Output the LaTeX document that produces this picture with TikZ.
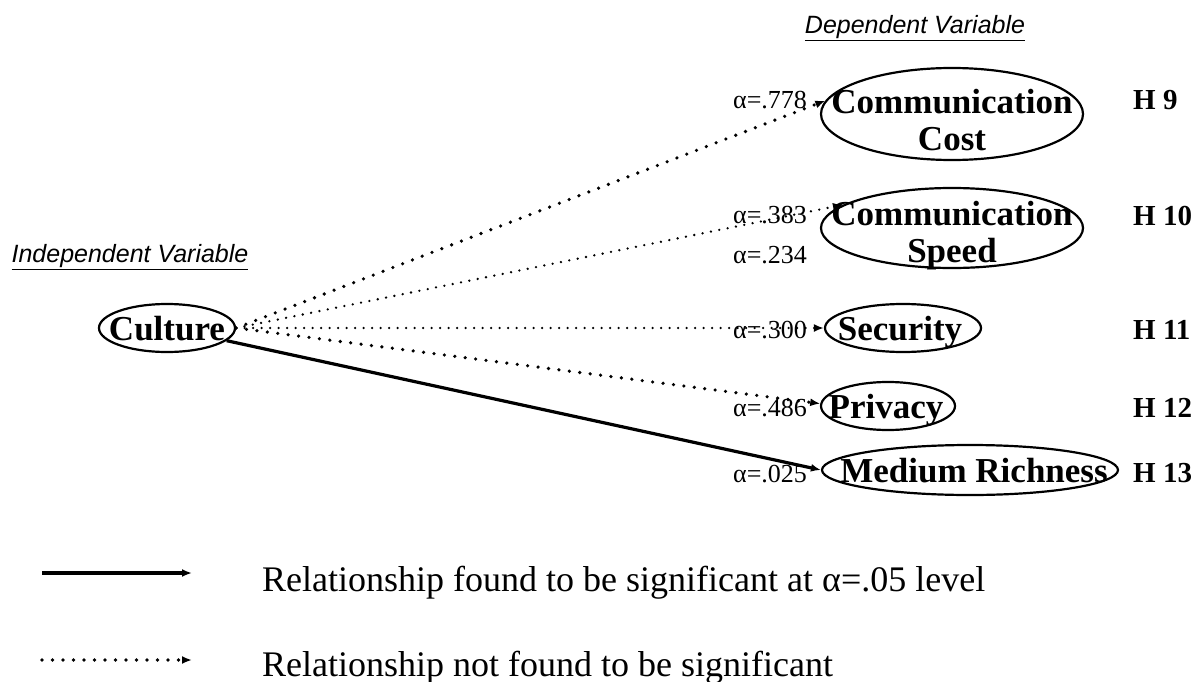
\documentclass[tikz,border=0pt]{standalone}
\usepackage{fontspec}
\setmainfont{Liberation Serif}
\newfontfamily\headsans{Liberation Sans}
\usetikzlibrary{shapes.geometric,arrows.meta}

\begin{document}
\begin{tikzpicture}[x=1pt,y=-1pt,
  ell/.style={draw, ellipse, line width=2.2pt, inner sep=0pt},
  nodetext/.style={font=\fontsize{35}{37}\selectfont\bfseries, align=center, inner sep=0pt},
  onetext/.style={nodetext, anchor=base},
  alphalbl/.style={font=\fontsize{26}{28}\selectfont, anchor=west, inner sep=0pt},
  hyplbl/.style={font=\fontsize{29}{31}\selectfont\bfseries, anchor=base west, inner sep=0pt},
  heading/.style={font=\headsans\itshape\fontsize{25}{27}\selectfont, inner sep=0pt},
  legendtxt/.style={font=\fontsize{36}{38}\selectfont, anchor=base west, inner sep=0pt},
  tip/.style={-{Latex[length=10pt,width=8pt]}},
  sig/.style={tip, line width=3.2pt},
  dotbig/.style={tip, line width=3.6pt, line cap=round, dash pattern=on 0pt off 10.5pt},
  dotsmall/.style={tip, line width=2.6pt, line cap=round, dash pattern=on 0pt off 8.5pt}
]
\useasboundingbox (0,0) rectangle (1201,682);

% headings
\node[heading] (dephead) at (915,28) {\underline{Dependent Variable}};
\node[heading] (indhead) at (130,257) {\underline{Independent Variable}};

% independent variable
\node[ell, minimum width=136, minimum height=48] (cul) at (167,328) {};
\node[onetext] (cultxt) at (167,340) {Culture};

% dependent variables
\node[ell, minimum width=262, minimum height=92] (cc) at (952,114) {};
\node[nodetext] (cctxt) at (952,120) {Communication\\Cost};

\node[ell, minimum width=262, minimum height=80] (cs) at (952,228) {};
\node[nodetext] (cstxt) at (952,236) {Communication\\Speed};

\node[ell, minimum width=156, minimum height=48] (sec) at (903,328) {};
\node[onetext] (sectxt) at (900,340) {Security};

\node[ell, minimum width=134, minimum height=48] (pri) at (888,406) {};
\node[onetext] (pritxt) at (886,418) {Privacy};

\node[ell, minimum width=296, minimum height=50] (med) at (970,470) {};
\node[onetext] (medtxt) at (974,482) {Medium Richness};

% significance levels
\node[alphalbl] (a1) at (733,100) {α=.778};
\node[alphalbl] (a2) at (733,215) {α=.383};
\node[alphalbl] (a3) at (733,255) {α=.234};
\node[alphalbl] (a4) at (733,330) {α=.300};
\node[alphalbl] (a5) at (733,408) {α=.486};
\node[alphalbl] (a6) at (733,474) {α=.025};

% hypotheses
\node[hyplbl] (h9)  at (1133,110) {H 9};
\node[hyplbl] (h10) at (1133,225) {H 10};
\node[hyplbl] (h11) at (1133,339) {H 11};
\node[hyplbl] (h12) at (1133,417) {H 12};
\node[hyplbl] (h13) at (1133,482) {H 13};

% paths from culture
\draw[dotbig]   (cul.east) -- (cc.174);
\draw[dotsmall] (cul.east) -- (cs.168);
\draw[dotsmall] (cul.east) -- (sec.west);
\draw[dotbig]   (cul.east) -- (pri.178);
\draw[sig]      (cul.-12)  -- (med.west);

% legend
\coordinate (l1a) at (42,573);
\coordinate (l1b) at (192,573);
\coordinate (l2a) at (42,660);
\coordinate (l2b) at (192,660);
\draw[sig] (l1a) -- (l1b);
\draw[dotbig] (l2a) -- (l2b);
\node[legendtxt] (lg1) at (262,591) {Relationship found to be significant at α=.05 level};
\node[legendtxt] (lg2) at (262,676) {Relationship not found to be significant};
\end{tikzpicture}
\end{document}
